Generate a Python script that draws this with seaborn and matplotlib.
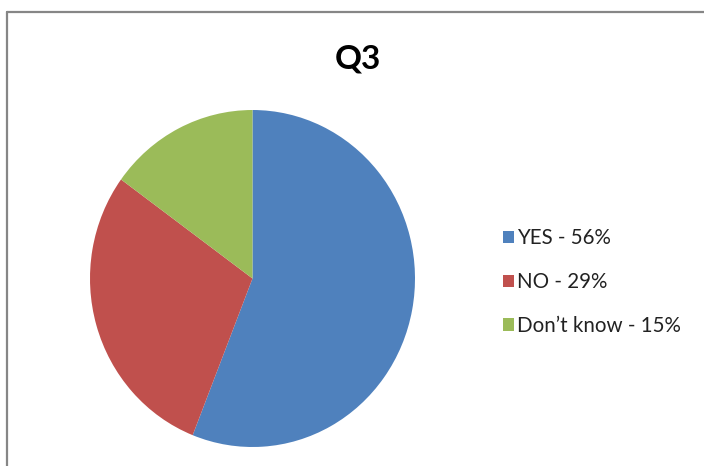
import matplotlib
matplotlib.use("Agg")
import matplotlib.pyplot as plt
import seaborn as sns
from matplotlib.patches import Patch
from matplotlib.lines import Line2D

sns.set_style("white")
plt.rcParams['font.family'] = ['Lato', 'DejaVu Sans']

labels = ["YES - 56%", "NO - 29%", "Don\u2019t know - 15%"]
values = [56, 29, 15]
colors = ["#4F81BD", "#C0504D", "#9BBB59"]
title = "Q3"

fig = plt.figure(figsize=(7.04, 4.66), dpi=100)
fig.patch.set_facecolor("white")

# border: top and left edges only (chart area extends past the image)
bx = 6.5 / 704
by = 1 - 11.5 / 466
fig.add_artist(Line2D([bx, 1.05], [by, by], transform=fig.transFigure,
                      color="#868686", linewidth=1.6))
fig.add_artist(Line2D([bx, bx], [-0.05, by], transform=fig.transFigure,
                      color="#868686", linewidth=1.6))

ax = fig.add_axes([90 / 704, (466 - 447) / 466, 325 / 704, 337 / 466])
ax.pie(values, colors=colors, startangle=90, counterclock=False, radius=1,
       wedgeprops=dict(linewidth=0))
ax.set_aspect("auto")
ax.set_xlim(-1, 1)
ax.set_ylim(-1, 1)
ax.axis("off")

fig.text(358 / 704, 1 - 59 / 466, title, ha="center", va="center",
         fontsize=24, fontweight="bold", color="black")

handles = [Patch(facecolor=c, edgecolor="none") for c in colors]
leg = fig.legend(handles, labels, loc="center left",
                 bbox_to_anchor=(503 / 704, 1 - 282 / 466),
                 frameon=False, fontsize=14.8, handlelength=0.55,
                 handleheight=0.55, handletextpad=0.15, labelspacing=1.15,
                 borderaxespad=0, borderpad=0)
for t in leg.get_texts():
    t.set_color("#222222")

fig.savefig("out.png", dpi=100, facecolor="white")
